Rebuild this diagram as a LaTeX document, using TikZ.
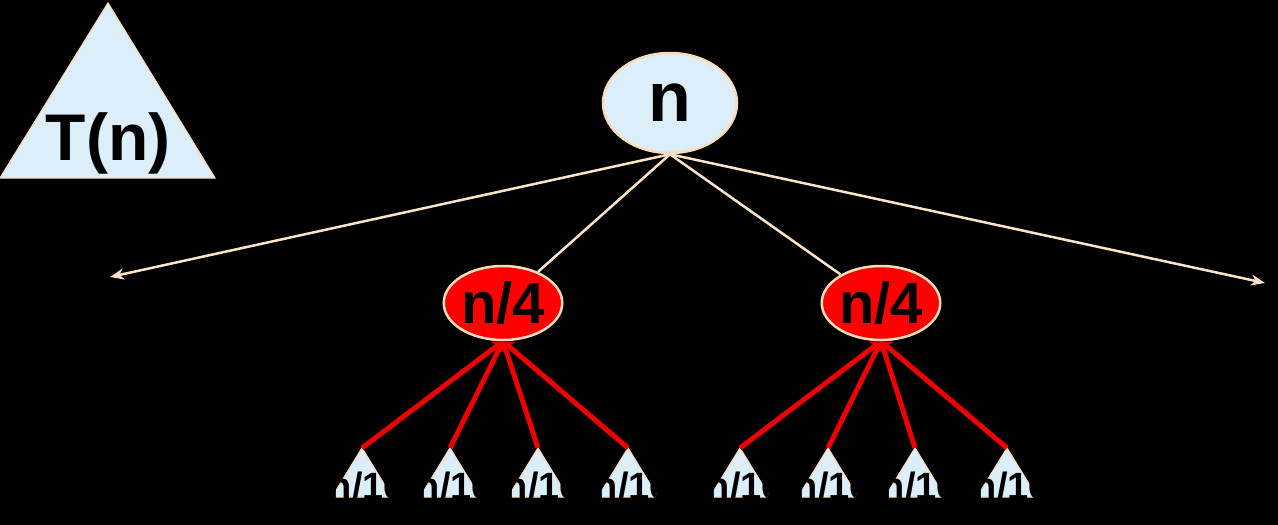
\documentclass[tikz,border=0pt]{standalone}
\usepackage{fontspec}
\setmainfont{Liberation Sans}
\usetikzlibrary{shapes.geometric,arrows.meta}
\definecolor{lblue}{HTML}{DDEEFB}
\definecolor{peach}{HTML}{F8DCBA}
\definecolor{pline}{HTML}{FBE3C6}
\definecolor{rline}{HTML}{EE0000}
\tikzset{
  blueell/.style={ellipse,draw=peach,line width=2.5pt,fill=lblue,inner sep=0pt,minimum width=134pt,minimum height=100pt},
  redell/.style={ellipse,draw=peach,line width=2.5pt,fill=red,inner sep=0pt,minimum width=110pt,minimum height=74pt},
  tri/.style={draw=peach,line width=1.2pt,fill=lblue},
  pedge/.style={draw=pline,line width=2.5pt,-{Stealth[length=14pt,width=11pt]}},
  pedgeplain/.style={draw=pline,line width=2.5pt},
  redge/.style={draw=rline,line width=5pt,-{Stealth[length=10pt,width=14pt]}},
  smalltxt/.style={font=\bfseries\fontsize{38}{40}\selectfont,text=black,inner sep=0pt,anchor=base}
}
\begin{document}
\begin{tikzpicture}[x=1pt,y=-1pt]
\fill[black] (0,0) rectangle (1278,525);
\useasboundingbox (0,0) rectangle (1278,525);
% big triangle
\coordinate (Tapex) at (108,3);
\draw[tri] (Tapex) -- (215,178) -- (0,178) -- cycle;
\node[font=\bfseries\fontsize{66}{70}\selectfont,inner sep=0pt,anchor=base] (Tlabel) at (108,160) {T(n)};
% root and quarter nodes
\node[blueell,font=\bfseries\fontsize{70}{74}\selectfont] (root) at (670,103) {n};
\node[redell,font=\bfseries\fontsize{58}{62}\selectfont] (qa) at (503,303) {n/4};
\node[redell,font=\bfseries\fontsize{58}{62}\selectfont] (qb) at (881,303) {n/4};
\coordinate (L) at (110,277);
\coordinate (R) at (1265,283);
\draw[pedge] (root.south) -- (L);
\draw[pedge] (root.south) -- (R);
\draw[pedgeplain] (root.south) -- (qa);
\draw[pedgeplain] (root.south) -- (qb);
% small triangles
\foreach \i/\x in {1/362,2/450,3/538,4/628,5/740,6/828,7/915,8/1007}{
  \coordinate (s\i) at (\x,448);
  \draw[tri] (s\i) -- (\x+30,497) -- (\x-30,497) -- cycle;
  \node[smalltxt] (t\i) at (\x+5,499) {n/16};
}
\foreach \i in {1,2,3,4}{\draw[redge] (s\i) -- (qa.south);}
\foreach \i in {5,6,7,8}{\draw[redge] (s\i) -- (qb.south);}
\end{tikzpicture}
\end{document}
